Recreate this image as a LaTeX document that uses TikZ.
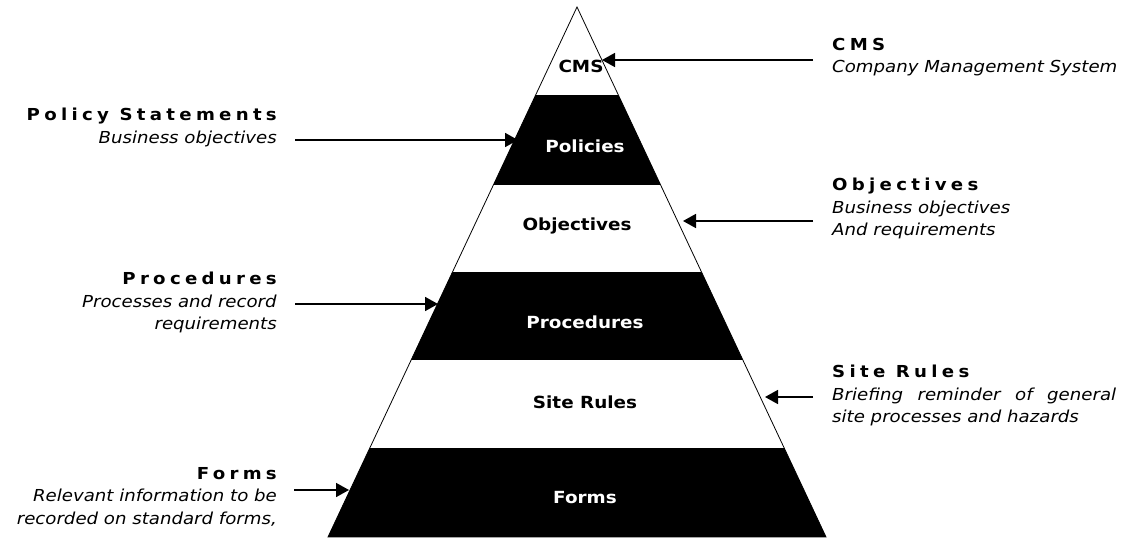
\documentclass[tikz,border=0pt]{standalone}
\usepackage{fontspec}
\setmainfont{DejaVu Sans}[FakeStretch=1.1]
\usetikzlibrary{arrows.meta}

\newcommand{\spaced}[1]{{\bfseries\addfontfeature{LetterSpace=26}#1}}

\begin{document}
\begin{tikzpicture}[x=1pt , y=-1pt ,
		layer/.style = { font = \bfseries\fontsize{16.7}{18}\selectfont , inner sep = 0pt } ,
		lefttext/.style = { anchor = north east , align = right , inner sep = 0pt , font = \fontsize{16.5}{22.5}\selectfont } ,
		righttext/.style = { anchor = north west , align = left , inner sep = 0pt , font = \fontsize{16.5}{22.5}\selectfont } ,
		pointer/.style = { line width = 1.7pt , -{Triangle[length=13pt , width=14pt]} } ]
	\useasboundingbox (0,0) rectangle (1125,540) ;
	% pyramid corners
	\coordinate (apex) at (577,7) ;
	\coordinate (bl) at (328,537) ;
	\coordinate (br) at (826,537) ;
	% black bands
	\begin{scope}
		\clip (apex) -- (bl) -- (br) -- cycle ;
		\foreach \top/\bot in {95/185,272/360,448/537}
			\fill (300,\top) rectangle (860,\bot) ;
	\end{scope}
	\draw[line width = 0.8pt] (apex) -- (bl) -- (br) -- cycle ;
	% layer names
	\node[layer] (cms) at (581,66) {CMS} ;
	\node[layer , text = white] (policies) at (585,146) {Policies} ;
	\node[layer] (objectives) at (577,226) {Objectives} ;
	\node[layer , text = white] (procedures) at (585,322) {Procedures} ;
	\node[layer] (siterules) at (585,402) {Site Rules} ;
	\node[layer , text = white] (forms) at (585,498) {Forms} ;
	% explanations
	\node[righttext] (cmstext) at (832,38) {\spaced{CMS}\\ \textit{Company Management System}} ;
	\node[lefttext] (poltext) at (277,108) {\spaced{Policy Statements}\\ \textit{Business objectives}} ;
	\node[righttext] (objtext) at (832,178) {\spaced{Objectives}\\ \textit{Business objectives}\\ \textit{And requirements}} ;
	\node[lefttext] (proctext) at (277,272) {\spaced{Procedures}\\ \textit{Processes and record}\\ \textit{requirements}} ;
	\node[righttext , align = justify , text width = 284pt] (sitetext) at (832,365) {\spaced{Site Rules}\\ \itshape Briefing reminder of general site processes and hazards} ;
	\node[lefttext] (formtext) at (277,467) {\spaced{Forms}\\ \textit{Relevant information to be}\\ \textit{recorded on standard forms,}} ;
	% arrows
	\coordinate (cmsfrom) at (813,60) ; \coordinate (cmsto) at (602,60) ;
	\coordinate (polfrom) at (295,140) ; \coordinate (polto) at (518,140) ;
	\coordinate (objfrom) at (813,221) ; \coordinate (objto) at (683,221) ;
	\coordinate (procfrom) at (295,304) ; \coordinate (procto) at (438,304) ;
	\coordinate (sitefrom) at (813,397) ; \coordinate (siteto) at (765,397) ;
	\coordinate (formfrom) at (294,490) ; \coordinate (formto) at (349,490) ;
	\foreach \a/\b in {cmsfrom/cmsto,polfrom/polto,objfrom/objto,procfrom/procto,sitefrom/siteto,formfrom/formto}
		\draw[pointer] (\a) -- (\b) ;
\end{tikzpicture}
\end{document}
